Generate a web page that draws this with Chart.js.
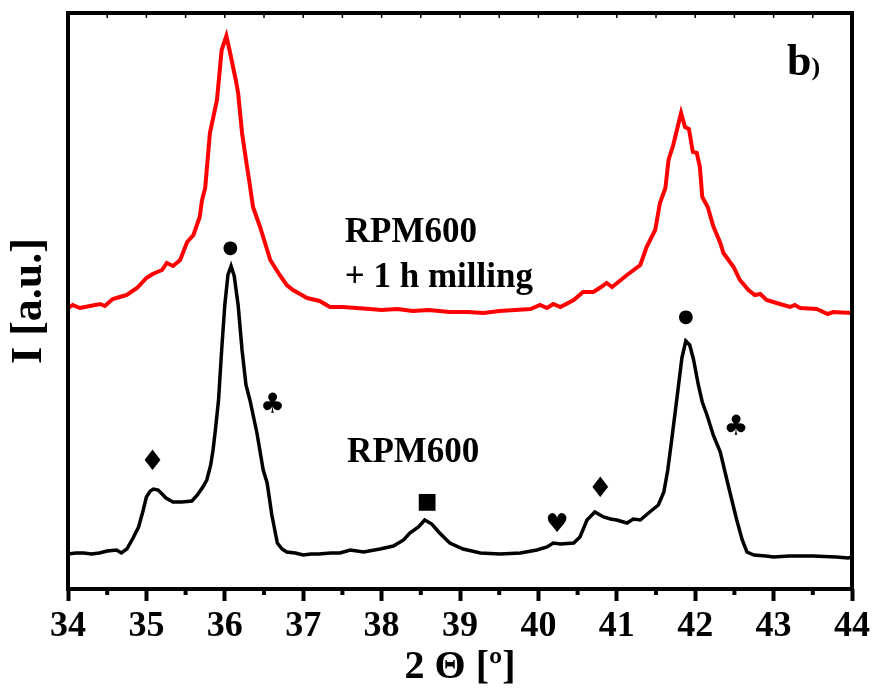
<!DOCTYPE html>
<html>
<head>
<meta charset="utf-8">
<script src="https://cdn.jsdelivr.net/npm/chart.js@4.4.0/dist/chart.umd.min.js"></script>
<style>
  html, body { margin: 0; padding: 0; background: #fff; }
  #wrap { width: 875px; height: 696px; position: relative; }
</style>
</head>
<body>
<div id="wrap"><canvas id="xrd"></canvas></div>
<script>
// RPM600 (black)
const theta600 = [34.00,34.10,34.20,34.30,34.40,34.50,34.62,34.68,34.75,34.83,34.90,34.96,35.00,35.05,35.09,35.15,35.20,35.25,35.34,35.45,
  35.58,35.65,35.72,35.77,35.82,35.85,35.88,35.92,35.96,36.00,36.04,36.08,36.12,36.17,36.22,36.27,36.32,36.41,36.49,36.54,
  36.60,36.67,36.73,36.79,36.90,37.00,37.10,37.20,37.35,37.47,37.60,37.77,37.98,38.15,38.28,38.36,38.47,38.55,38.64,38.74,
  38.87,39.04,39.26,39.51,39.77,39.98,40.11,40.19,40.28,40.45,40.53,40.62,40.72,40.83,40.92,41.00,41.13,41.21,41.30,41.42,
  41.53,41.60,41.65,41.70,41.74,41.78,41.83,41.88,41.93,41.98,42.04,42.09,42.15,42.23,42.32,42.42,42.53,42.60,42.66,42.75,
  42.90,43.00,43.20,43.50,43.80,43.95,44.00];
const int600 = [35,36,36,35,36,38,39,36,40,51,62,79,92,98,100,99,95,91,87,87,
  88,94,102,109,124,139,159,189,239,284,314,323,313,284,239,204,189,156,119,106,
  74,46,40,37,36,34,35,35,36,36,39,37,40,43,49,56,62,69,65,56,
  46,40,36,35,36,39,42,46,45,46,52,69,77,72,70,69,66,70,69,77,
  84,97,119,149,174,199,231,248,244,229,204,187,174,154,137,104,69,49,37,34,
  33,32,33,33,32,31,32];

// RPM600 + 1 h milling (red)
const thetaMilled = [34.00,34.06,34.15,34.28,34.41,34.47,34.57,34.66,34.75,34.88,35.00,35.08,35.20,35.26,35.34,35.43,35.52,35.60,35.68,35.71,
  35.75,35.81,35.90,35.96,36.02,36.06,36.10,36.14,36.17,36.22,36.28,36.31,36.36,36.45,36.58,36.70,36.79,36.87,36.96,37.05,
  37.21,37.34,37.50,37.68,37.85,38.00,38.20,38.40,38.60,38.87,39.10,39.30,39.50,39.70,39.90,40.02,40.11,40.19,40.28,40.45,
  40.57,40.70,40.80,40.87,40.94,41.13,41.30,41.38,41.49,41.55,41.62,41.66,41.72,41.82,41.87,41.92,41.97,42.02,42.06,42.09,
  42.16,42.23,42.32,42.36,42.49,42.57,42.68,42.76,42.83,42.91,43.08,43.21,43.27,43.34,43.55,43.69,43.76,44.00];
const intMilled = [281,284,281,283,285,283,290,292,294,301,311,315,319,326,323,329,347,354,372,389,
  401,456,489,539,553,539,524,509,496,456,424,409,382,362,329,314,304,299,295,291,
  288,282,282,281,280,279,280,278,279,277,277,276,278,279,280,284,281,285,282,289,
  297,297,302,306,302,314,324,342,359,386,401,429,444,476,462,460,437,436,422,392,
  382,363,346,336,322,309,299,294,295,289,285,282,284,281,280,275,277,276];

const xTicks = [34,35,36,37,38,39,40,41,42,43,44];

// phase markers
const markTheta = [36.07,36.61,35.08,38.58,40.24,40.79,41.88,42.52];
const markInt   = [341,183,126,87,64,99,272,161];
const markSym   = ['●','♣','♦','■','♥','♦','●','♣'];

// text labels
const labelText  = ['RPM600','+ 1 h milling','RPM600'];
const labelTheta = [37.53,37.53,37.56];
const labelInt   = [347,302,127];

const SERIF = '"Liberation Serif", "Times New Roman", serif';
const symSize = {'●': 18, '■': 22, '♦': 28, '♣': 28, '♥': 26};

const decor = {
  id: 'decor',
  afterDraw(chart) {
    const ctx = chart.ctx;
    const xs = chart.scales.x, ys = chart.scales.y;
    const a = chart.chartArea;
    ctx.save();
    ctx.strokeStyle = '#000';
    // minor / top ticks
    for (let v = 34; v <= 44.001; v += 0.5) {
      const px = xs.getPixelForValue(v);
      ctx.lineWidth = 1.5;
      ctx.beginPath(); ctx.moveTo(px, a.top); ctx.lineTo(px, a.top + 5); ctx.stroke();
      if (Math.abs(v % 1) > 0.1) {
        ctx.lineWidth = 4;
        ctx.beginPath(); ctx.moveTo(px, a.bottom); ctx.lineTo(px, a.bottom + 6); ctx.stroke();
      }
    }
    // frame
    ctx.lineWidth = 4;
    ctx.strokeRect(a.left, a.top, a.right - a.left, a.bottom - a.top);

    // symbols
    ctx.fillStyle = '#000';
    ctx.textAlign = 'center';
    ctx.textBaseline = 'middle';
    markSym.forEach((s, i) => {
      ctx.font = symSize[s] + 'px "DejaVu Sans"';
      ctx.fillText(s, xs.getPixelForValue(markTheta[i]), ys.getPixelForValue(markInt[i]));
    });

    // labels
    ctx.textAlign = 'left';
    ctx.textBaseline = 'alphabetic';
    ctx.font = 'bold 35px ' + SERIF;
    labelText.forEach((t, i) => {
      ctx.fillText(t, xs.getPixelForValue(labelTheta[i]), ys.getPixelForValue(labelInt[i]));
    });

    // panel letter
    const bx = xs.getPixelForValue(43.17), by = ys.getPixelForValue(514);
    ctx.font = 'bold 44px ' + SERIF;
    ctx.fillText('b', bx, by);
    const bw = ctx.measureText('b').width;
    ctx.font = 'bold 26px ' + SERIF;
    ctx.fillText(')', bx + bw, by);
    ctx.restore();
  }
};

new Chart(document.getElementById('xrd'), {
  type: 'line',
  data: {
    datasets: [
      {
        label: 'RPM600 + 1 h milling',
        data: thetaMilled.map((t, i) => ({x: t, y: intMilled[i]})),
        borderColor: '#ff0000',
        borderWidth: 4,
        pointRadius: 0,
        tension: 0
      },
      {
        label: 'RPM600',
        data: theta600.map((t, i) => ({x: t, y: int600[i]})),
        borderColor: '#000',
        borderWidth: 3.5,
        pointRadius: 0,
        tension: 0
      }
    ]
  },
  options: {
    responsive: true,
    maintainAspectRatio: false,
    animation: false,
    layout: { padding: { top: 13, right: 23, left: 0, bottom: 0 } },
    plugins: { legend: { display: false }, tooltip: { enabled: false } },
    scales: {
      x: {
        type: 'linear',
        min: 34, max: 44,
        afterBuildTicks: s => { s.ticks = xTicks.map(v => ({value: v})); },
        afterFit: s => { s.height = 107; },
        grid: { drawOnChartArea: false, drawTicks: true, tickLength: 12, tickWidth: 4, tickColor: '#000' },
        border: { display: false },
        ticks: { color: '#000', padding: 4, font: { family: SERIF, size: 36, weight: 'bold' } },
        title: { display: true, text: '2 Θ [º]', color: '#000', padding: { top: 0, bottom: 4 },
                 font: { family: SERIF, size: 40, weight: 'bold' } }
      },
      y: {
        min: 0, max: 576,
        afterFit: s => { s.width = 68; },
        grid: { display: false },
        border: { display: false },
        ticks: { display: false },
        title: { display: true, text: 'I [a.u.]', color: '#000', padding: { top: 3, bottom: 0 },
                 font: { family: SERIF, size: 44, weight: 'bold' } }
      }
    }
  },
  plugins: [decor]
});
</script>
</body>
</html>
